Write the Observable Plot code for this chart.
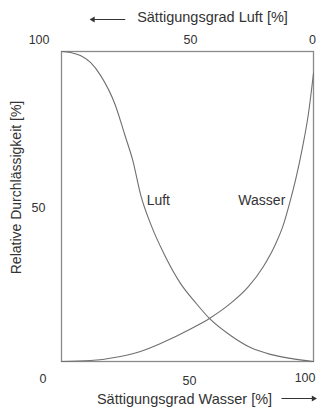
<!DOCTYPE html>
<html>
<head>
<meta charset="utf-8">
<script src="https://cdn.jsdelivr.net/npm/d3@7"></script>
<script src="https://cdn.jsdelivr.net/npm/@observablehq/plot@0.6"></script>
<style>
  html, body { margin: 0; padding: 0; background: #fff; }
  svg { display: block; }
</style>
</head>
<body>
<div id="chart"></div>
<script>
// Relative permeability (%) versus water saturation (%)
const luftSw = [0, 3.6, 7.5, 11.5, 15.5, 21.4, 25.2, 28.3, 31.5, 35.6, 41.0, 47.2, 53.2, 58.7, 67.1, 75, 82.9, 90.9, 100];
const luftKr = [100, 99.7, 98.7, 96.5, 92.3, 82.6, 72.9, 64.8, 53.5, 43.9, 34.2, 25.2, 19.0, 13.9, 8.4, 4.5, 2.3, 1.0, 0];

const wasserSw = [0, 11.5, 23.4, 31.3, 39.3, 51.2, 58.7, 66.7, 74, 80, 85, 88, 90.5, 93, 95.5, 98, 100];
const wasserKr = [0, 0.3, 1.6, 3.2, 5.8, 10.5, 13.9, 18.5, 24, 30.5, 38, 44, 51, 59, 68.5, 80, 93];

// Tick labels: bottom = water saturation, top = air saturation (reversed)
const wasserTicks = [0, 50, 100];
const luftTicks = [100, 50, 0];
const kTicks = [50];

const luft = luftSw.map((x, i) => ({x, y: luftKr[i]}));
const wasser = wasserSw.map((x, i) => ({x, y: wasserKr[i]}));

const ink = "#333";
const curve = "#6f6f6f";
const font = "Liberation Sans, Arial, sans-serif";

const chart = Plot.plot({
  width: 321,
  height: 408,
  marginLeft: 61,
  marginRight: 8,
  marginTop: 51,
  marginBottom: 47,
  x: {domain: [0, 100], axis: null},
  y: {domain: [0, 100], axis: null},
  style: {fontFamily: font, fontSize: "12.5px", color: ink, background: "#fff"},
  marks: [
    Plot.frame({stroke: "#8a8a8a", strokeWidth: 1.3}),
    Plot.line(luft, {x: "x", y: "y", curve: "monotone-x", stroke: curve, strokeWidth: 1.1}),
    Plot.line(wasser, {x: "x", y: "y", curve: "monotone-x", stroke: curve, strokeWidth: 1.1}),

    // curve labels
    Plot.text(["Luft"], {x: 33, y: 52, text: d => d, fontSize: 14, fill: ink, textAnchor: "start", dx: 2}),
    Plot.text(["Wasser"], {x: 90, y: 52, text: d => d, fontSize: 14, fill: ink, textAnchor: "end", dx: -3}),

    // top axis (air saturation, reversed)
    Plot.text(luftTicks.filter(d => d === 100), {x: d => 100 - d, y: 100, text: d => String(d), dy: -12, dx: -12, textAnchor: "end", fill: ink}),
    Plot.text(luftTicks.filter(d => d === 50), {x: d => 100 - d, y: 100, text: d => String(d), dy: -12, dx: 3, fill: ink}),
    Plot.text(luftTicks.filter(d => d === 0), {x: d => 100 - d, y: 100, text: d => String(d), dy: -12, dx: -1, fill: ink}),

    // bottom axis (water saturation)
    Plot.text(wasserTicks.filter(d => d === 0), {x: d => d, y: 0, text: d => String(d), dy: 17, dx: -15, textAnchor: "end", fill: ink}),
    Plot.text(wasserTicks.filter(d => d === 50), {x: d => d, y: 0, text: d => String(d), dy: 19, dx: 2, fill: ink}),
    Plot.text(wasserTicks.filter(d => d === 100), {x: d => d, y: 0, text: d => String(d), dy: 16, dx: 2, textAnchor: "end", fill: ink}),

    // left axis
    Plot.text(kTicks, {x: 0, y: d => d, text: d => String(d), dx: -23, dy: 1, textAnchor: "middle", fill: ink}),

    // axis titles with direction arrows
    Plot.text(["Sättigungsgrad Luft [%]"], {frameAnchor: "top", text: d => d, dx: 25, dy: -34, lineAnchor: "middle", fontSize: 14.5, fill: ink}),
    Plot.ruleY([0], {x1: 12.5, x2: 25.5, y: 100, dy: -32, stroke: ink, strokeWidth: 1}),
    Plot.dot([0], {x: 12.5, y: 100, dy: -32, symbol: "triangle", rotate: -90, r: 2.2, fill: ink, stroke: "none"}),

    Plot.text(["Sättigungsgrad Wasser [%]"], {frameAnchor: "bottom", text: d => d, dx: -3, dy: 38, lineAnchor: "middle", fontSize: 14.5, fill: ink}),
    Plot.ruleY([0], {x1: 87.5, x2: 100, y: 0, dy: 37, stroke: ink, strokeWidth: 1}),
    Plot.dot([0], {x: 100, y: 0, dy: 37, symbol: "triangle", rotate: 90, r: 2.2, fill: ink, stroke: "none"}),

    Plot.text(["Relative Durchlässigkeit [%]"], {frameAnchor: "left", text: d => d, rotate: -90, textAnchor: "middle", lineAnchor: "middle", dx: -45, dy: -19, fontSize: 14, fill: ink})
  ]
});

document.getElementById("chart").append(chart);
</script>
</body>
</html>
